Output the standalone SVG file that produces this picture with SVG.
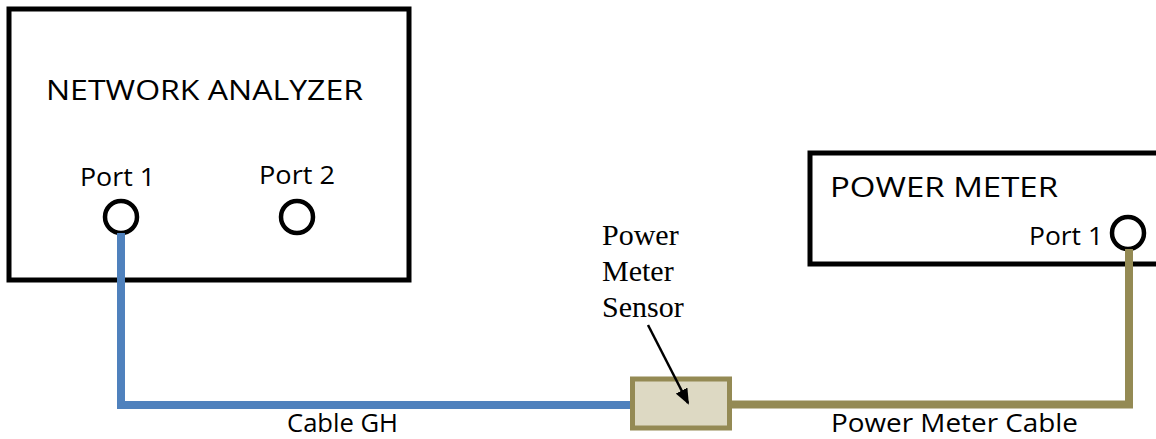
<svg xmlns="http://www.w3.org/2000/svg" width="1156" height="439" viewBox="0 0 1156 439">
  <style>
    .box { fill: #ffffff; stroke: #000000; stroke-width: 5; }
    .port { fill: #ffffff; stroke: #000000; stroke-width: 4.5; }
    .sans { font-family: "Open Sans", "Noto Sans", "Liberation Sans", sans-serif; fill: #000000; }
    .serif { font-family: "Liberation Serif", "Times New Roman", serif; fill: #000000; font-size: 30px; }
    .big { font-size: 28px; }
    .small { font-size: 25px; }
    .blue { fill: none; stroke: #4f81bd; stroke-width: 8; }
    .olive { fill: none; stroke: #948a54; stroke-width: 8; }
  </style>
  <defs>
    <marker id="ah" markerWidth="16" markerHeight="13" refX="14" refY="6.5" orient="auto" markerUnits="userSpaceOnUse" viewBox="0 0 16 13">
      <path d="M0,0 L16,6.5 L0,13 Z" fill="#000000"/>
    </marker>
  </defs>
  <rect width="1156" height="439" fill="#ffffff"/>

  <g id="network-analyzer">
    <rect class="box" x="9" y="9" width="400" height="271"/>
    <text class="sans big" x="46" y="100" textLength="317" lengthAdjust="spacingAndGlyphs">NETWORK ANALYZER</text>
    <text class="sans small" x="80" y="186" textLength="75" lengthAdjust="spacingAndGlyphs">Port 1</text>
    <text class="sans small" x="259" y="184" textLength="76" lengthAdjust="spacingAndGlyphs">Port 2</text>
    <circle class="port" cx="121" cy="217" r="16"/>
    <circle class="port" cx="297" cy="217" r="16"/>
  </g>

  <g id="power-meter">
    <rect class="box" x="810" y="153" width="400" height="111"/>
    <text class="sans big" x="830" y="197" textLength="228" lengthAdjust="spacingAndGlyphs">POWER METER</text>
    <text class="sans small" x="1029" y="245" textLength="74" lengthAdjust="spacingAndGlyphs">Port 1</text>
    <circle class="port" cx="1128" cy="233" r="16"/>
  </g>

  <g id="connectors">
    <polyline class="blue" points="121,233 121,405 632,405"/>
    <polyline class="olive" points="730,404.5 1129,404.5 1129,249"/>
  </g>

  <g id="sensor">
    <rect x="632.5" y="379" width="97" height="49" fill="#ddd9c3" stroke="#948a54" stroke-width="5"/>
  </g>

  <g id="sensor-label">
    <text class="serif" x="602" y="245">Power</text>
    <text class="serif" x="602" y="281">Meter</text>
    <text class="serif" x="602" y="317">Sensor</text>
    <line x1="648" y1="325" x2="688" y2="403" stroke="#000000" stroke-width="2.5" marker-end="url(#ah)"/>
  </g>

  <g id="cable-labels">
    <text class="sans small" x="287" y="432" textLength="111" lengthAdjust="spacingAndGlyphs">Cable GH</text>
    <text class="sans small" x="831" y="432" textLength="247" lengthAdjust="spacingAndGlyphs">Power Meter Cable</text>
  </g>
</svg>
